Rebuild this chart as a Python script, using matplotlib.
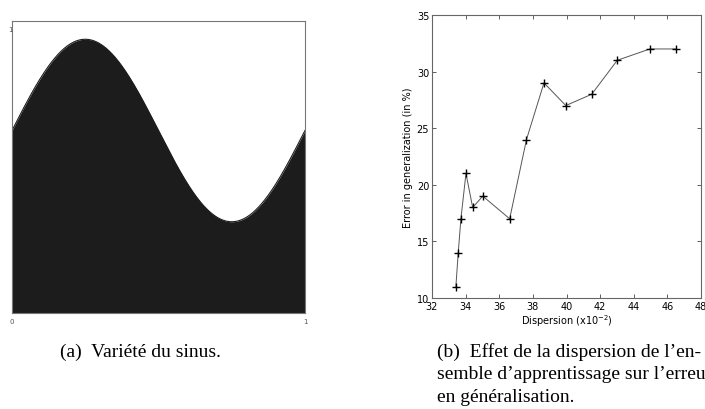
import numpy as np
import matplotlib
matplotlib.use("Agg")
import matplotlib.pyplot as plt

# Panel (a): sine manifold parameters
sine_center = 0.625
sine_amplitude = 0.3125
sine_cycles = 1.0

# Panel (b): dispersion vs generalization error
dispersion = [33.42, 33.56, 33.72, 34.02, 34.42, 35.02, 36.62, 37.62, 38.66,
              39.96, 41.5, 43.02, 44.96, 46.5]
error_pct = [11, 14, 17, 21, 18, 19, 17, 24, 29, 27, 28, 31, 32, 32]
x_ticks_b = [32, 34, 36, 38, 40, 42, 44, 46, 48]
y_ticks_b = [10, 15, 20, 25, 30, 35]

caption_a = "(a)  Variété du sinus."
caption_b_lines = ["(b)  Effet de la dispersion de l\u2019en-",
                   "semble d\u2019apprentissage sur l\u2019erreur",
                   "en généralisation."]

W, H = 705, 410
fig = plt.figure(figsize=(W / 100, H / 100), dpi=100)

def ax_rect(l, t, r, b):
    return [l / W, 1 - b / H, (r - l) / W, (b - t) / H]

# ---- Panel (a)
axa = fig.add_axes(ax_rect(12, 22, 305, 314))
xs = np.linspace(0, 1, 600)
ys = sine_center + sine_amplitude * np.sin(2 * np.pi * sine_cycles * xs)
axa.fill_between(xs, 0, ys, color="#1c1c1c", linewidth=0)
axa.plot(xs, ys, color="#1c1c1c", linewidth=0.8)
axa.set_xlim(0, 1)
axa.set_ylim(0, 1)
axa.set_xticks([])
axa.set_yticks([])
for s in axa.spines.values():
    s.set_color("#777777")
    s.set_linewidth(0.8)
fig.text(10 / W, 1 - 30 / H, "1", fontsize=5, color="#555555", ha="center", va="center")
fig.text(12 / W, 1 - 322 / H, "0", fontsize=5, color="#555555", ha="center", va="center")
fig.text(305 / W, 1 - 322 / H, "1", fontsize=5, color="#555555", ha="center", va="center")

# ---- Panel (b)
axb = fig.add_axes(ax_rect(432, 16, 701, 299))
axb.plot(dispersion, error_pct, color="#555555", linewidth=0.7,
         marker="+", markersize=5.5, markeredgecolor="black", markeredgewidth=1.0)
axb.set_xlim(32, 48)
axb.set_ylim(10, 35)
axb.set_xticks(x_ticks_b)
axb.set_yticks(y_ticks_b)
axb.tick_params(direction="in", length=3, width=0.6, labelsize=7,
                top=True, right=True, pad=2, colors="#444444", labelcolor="black")
for s in axb.spines.values():
    s.set_color("#666666")
    s.set_linewidth(0.8)
axb.set_xlabel("Dispersion (x10$^{-2}$)", fontsize=7, labelpad=1)
axb.set_ylabel("Error in generalization (in %)", fontsize=7, labelpad=3)

# ---- Captions
serif = ["Liberation Serif", "DejaVu Serif"]
fig.text(140 / W, 1 - 352 / H, caption_a, fontsize=14, family=serif,
         ha="center", va="center")
for i, line in enumerate(caption_b_lines):
    fig.text(437 / W, 1 - (352 + 23 * i) / H, line, fontsize=14, family=serif,
             ha="left", va="center")

fig.savefig("out.png", dpi=100)
